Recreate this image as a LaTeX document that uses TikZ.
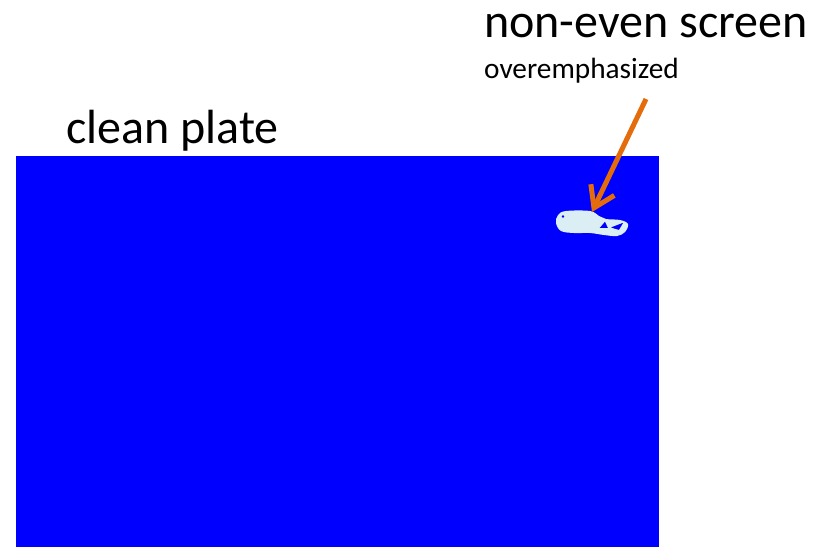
\documentclass[tikz,border=0pt]{standalone}
\usepackage{fontspec}
\setmainfont{Carlito}
\usetikzlibrary{arrows.meta}
\definecolor{plateblue}{HTML}{0000FF}
\definecolor{spotcol}{HTML}{DAEEF3}
\definecolor{arroworange}{HTML}{E46C0A}
\tikzset{
  bigtext/.style={anchor=base west, inner sep=0pt, font=\fontsize{48}{50}\selectfont},
  smalltext/.style={anchor=base west, inner sep=0pt, font=\fontsize{29.3}{32}\selectfont},
  pointer/.style={draw=arroworange, line width=5pt, -{Straight Barb[length=20pt,width=26pt]}},
}
\begin{document}
\begin{tikzpicture}[x=1pt,y=-1pt]
\useasboundingbox (0,0) rectangle (825,547);
% plate
\fill[plateblue] (16,156) rectangle (659,547);
% texts
\node[bigtext] (clean) at (66,143) {clean plate};
\node[bigtext] (title) at (484,37) {non-even screen};
\node[smalltext] (sub) at (484,78) {overemphasized};
% spot
\fill[spotcol, even odd rule]
  plot[smooth cycle, tension=0.6] coordinates {(558,215) (566,211) (590,211) (599,216) (606,219) (620,220) (628,224) (625,232) (617,236) (604,235) (590,233) (574,233) (561,231) (556,223)}
  (599.5,228) -- (605,221.5) -- (608,228) -- cycle
  (610.5,227.5) -- (623.5,222.5) -- (619,230) -- cycle
  (563,216.5) circle[radius=1.6];
% arrow
\coordinate (astart) at (646,99);
\coordinate (atip) at (592,212);
\draw[pointer] (astart) -- (atip);
\end{tikzpicture}
\end{document}
